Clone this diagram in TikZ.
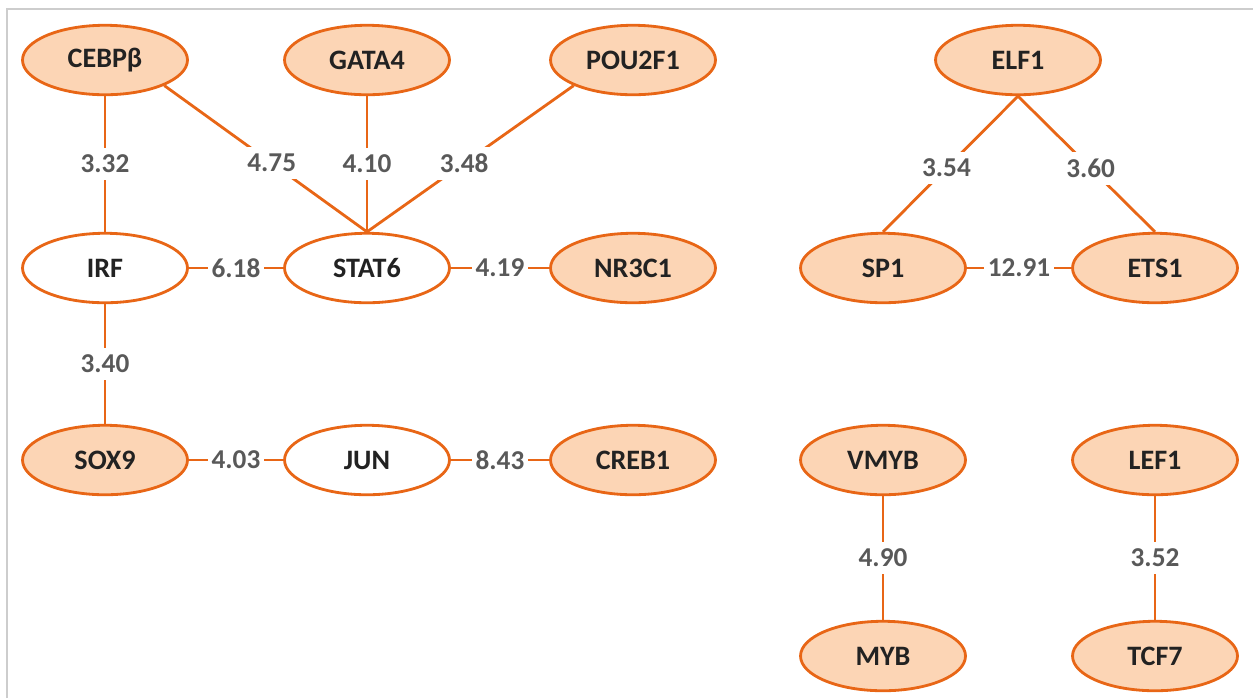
\documentclass[tikz,border=0pt]{standalone}
\usepackage{fontspec}
\setmainfont{Carlito}
\usetikzlibrary{shapes.geometric}
\definecolor{tforange}{RGB}{232,102,22}
\definecolor{tfpeach}{RGB}{252,213,181}
\definecolor{tftext}{RGB}{34,34,34}
\definecolor{wtgray}{RGB}{89,89,89}
\definecolor{framegray}{RGB}{205,205,205}

\begin{document}
\begin{tikzpicture}[x=0.02cm, y=-0.02cm,
    tf/.style={ellipse, draw=tforange, line width=1.6pt, minimum width=3.3cm,
      minimum height=1.39cm, inner sep=0pt, text=tftext,
      font=\bfseries\fontsize{16}{19}\selectfont},
    hit/.style={tf, fill=tfpeach},
    hub/.style={tf, fill=white},
    wt/.style={fill=white, inner xsep=2pt, inner ysep=4pt, text=wtgray,
      font=\bfseries\fontsize{15.5}{18}\selectfont},
    link/.style={draw=tforange, line width=1.6pt}]
    \useasboundingbox (0,0) rectangle (1253,698);
    \draw[framegray, line width=1pt] (7,698) -- (7,9) -- (1253,9);

    % left network
    \node[hit] (cebp) at (105,60) {CEBPβ};
    \node[hit] (gata) at (367,60) {GATA4};
    \node[hit] (pou) at (633,60) {POU2F1};
    \node[hub] (irf) at (105,268) {IRF};
    \node[hub] (stat) at (367,268) {STAT6};
    \node[hit] (nr3c) at (633,268) {NR3C1};
    \node[hit] (sox) at (105,460) {SOX9};
    \node[hub] (jun) at (367,460) {JUN};
    \node[hit] (creb) at (633,460) {CREB1};

    % right networks
    \node[hit] (elf) at (1018,60) {ELF1};
    \node[hit] (sp) at (883,268) {SP1};
    \node[hit] (ets) at (1155,268) {ETS1};
    \node[hit] (vmyb) at (883,460) {VMYB};
    \node[hit] (myb) at (883,656) {MYB};
    \node[hit] (lef) at (1155,460) {LEF1};
    \node[hit] (tcf) at (1155,656) {TCF7};

    \path[link] (cebp) -- node[wt] {3.32} (irf);
    \path[link] (cebp.south east) -- node[wt, pos=0.53] {4.75} (stat.north);
    \path[link] (gata) -- node[wt] {4.10} (stat.north);
    \path[link] (pou.south west) -- node[wt, pos=0.53] {3.48} (stat.north);
    \path[link] (irf) -- node[wt] {6.18} (stat);
    \path[link] (stat) -- node[wt] {4.19} (nr3c);
    \path[link] (irf) -- node[wt] {3.40} (sox);
    \path[link] (sox) -- node[wt] {4.03} (jun);
    \path[link] (jun) -- node[wt] {8.43} (creb);
    \path[link] (elf.south) -- node[wt, pos=0.53] {3.54} (sp.north);
    \path[link] (elf.south) -- node[wt, pos=0.53] {3.60} (ets.north);
    \path[link] (sp) -- node[wt] {12.91} (ets);
    \path[link] (vmyb) -- node[wt] {4.90} (myb);
    \path[link] (lef) -- node[wt] {3.52} (tcf);
\end{tikzpicture}
\end{document}
